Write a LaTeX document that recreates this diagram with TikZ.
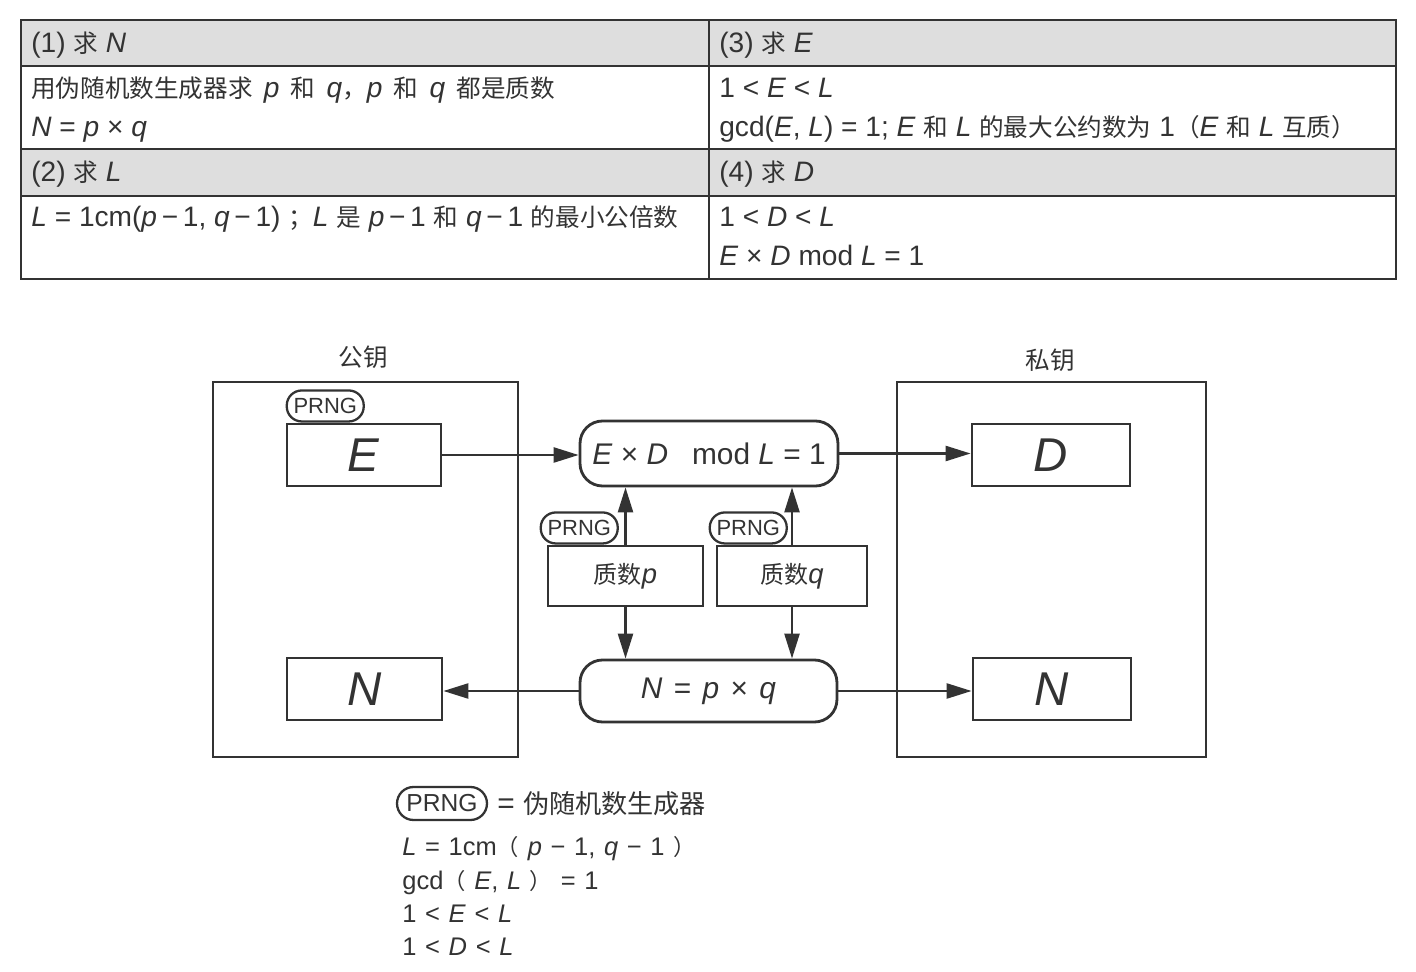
\documentclass[tikz,border=0pt]{standalone}
\usepackage{fontspec}
\setmainfont{Liberation Sans}
\newfontfamily\zhfont[Scale=0.875]{Noto Sans CJK SC}
\newcommand\zh[1]{{\zhfont #1}}
\usetikzlibrary{arrows.meta,positioning}
\definecolor{ink}{HTML}{333333}
\definecolor{hdrgray}{HTML}{DEDEDE}

\tikzset{
  keybox/.style={draw, line width=1.4pt, minimum height=7.5cm},
  valbox/.style={draw, line width=1.6pt, minimum height=1.24cm, font=\fontsize{27}{30}\selectfont},
  pill/.style={draw, line width=1.6pt, rounded corners=0.45cm, font=\fontsize{17}{20}\selectfont},
  primebox/.style={draw, line width=1.6pt, minimum height=1.2cm, font=\fontsize{15.6}{18}\selectfont},
  prng/.style={draw, line width=1.3pt, rounded corners=0.3cm, minimum width=1.54cm,
    minimum height=0.62cm, inner sep=0pt, font=\fontsize{12.5}{14}\selectfont},
  arr/.style={-{Triangle[length=0.5cm,width=0.3cm]}, line width=1.4pt},
  tbl/.style={line width=0.9pt},
  cell/.style={anchor=base west, inner sep=0pt, font=\fontsize{16}{18}\selectfont},
  keyline/.style={anchor=base west, inner sep=0pt,
    font={\fontsize{14.5}{17}\selectfont\spaceskip=0.34em\relax}}
}

\begin{document}
\begin{tikzpicture}[x=0.02cm, y=-0.02cm, color=ink]
  \useasboundingbox (0,0) rectangle (1416,972);

  % Table
  \fill[hdrgray] (21,20) rectangle (1396,66);
  \fill[hdrgray] (21,149) rectangle (1396,196);
  \draw[tbl] (21,20) rectangle (1396,279);
  \draw[tbl] (709,20) -- (709,279);
  \foreach \y in {66,149,196}
    \draw[tbl] (21,\y) -- (1396,\y);

  \node[cell] (h1) at (31,53) {(1) \zh{求} \textit{N}};
  \node[cell] (t1a) at (31,98) {\zh{用伪随机数生成器求}\hspace{0.4em}\textit{p}\hspace{0.4em}\zh{和}\hspace{0.4em}\textit{q}\zh{，}\textit{p}\hspace{0.4em}\zh{和}\hspace{0.4em}\textit{q}\hspace{0.4em}\zh{都是质数}};
  \node[cell] (t1b) at (31,137) {\textit{N} = \textit{p} × \textit{q}};
  \node[cell] (h2) at (31,182) {(2) \zh{求} \textit{L}};
  \node[cell] (t2a) at (31,227) {\textit{L} = 1cm(\textit{p}\,−\,1, \textit{q}\,−\,1) \zh{；}\textit{L} \zh{是} \textit{p}\,−\,1 \zh{和} \textit{q}\,−\,1 \zh{的最小公倍数}};

  \node[cell] (h3) at (719,53) {(3) \zh{求} \textit{E}};
  \node[cell] (t3a) at (719,98) {1 < \textit{E} < \textit{L}};
  \node[cell] (t3b) at (719,137) {gcd(\textit{E}, \textit{L}) = 1; \textit{E} \zh{和} \textit{L} \zh{的最大公约数为} 1\zh{（}\textit{E} \zh{和} \textit{L} \zh{互质）}};
  \node[cell] (h4) at (719,182) {(4) \zh{求} \textit{D}};
  \node[cell] (t4a) at (719,227) {1 < \textit{D} < \textit{L}};
  \node[cell] (t4b) at (719,266) {\textit{E} × \textit{D} mod \textit{L} = 1};

  % Key containers
  \node[keybox, minimum width=6.1cm] (pub) at (365.5,569.5) {};
  \node[keybox, minimum width=6.18cm] (priv) at (1051.5,569.5) {};
  \node[font=\fontsize{16}{18}\selectfont] (publbl) at (363,357) {\zh{公钥}};
  \node[font=\fontsize{16}{18}\selectfont] (privlbl) at (1050,360) {\zh{私钥}};

  % Values
  \node[valbox, minimum width=3.08cm] (valE) at (364,455) {\textit{E}};
  \node[valbox, minimum width=3.1cm] (valNl) at (364.5,689) {\textit{N}};
  \node[valbox, minimum width=3.16cm] (valD) at (1051,455) {\textit{D}};
  \node[valbox, minimum width=3.16cm] (valNr) at (1052,689) {\textit{N}};

  % Computations
  \node[pill, minimum width=5.16cm, minimum height=1.3cm] (modeq) at (709,453.5)
    {\textit{E} × \textit{D}\hspace{0.8em}mod \textit{L} = 1};
  \node[pill, minimum width=5.14cm, minimum height=1.24cm] (npq) at (708.5,691)
    {\spaceskip=0.38em\relax\textit{N} = \textit{p} × \textit{q}};
  \node[primebox, minimum width=3.1cm] (primeP) at (625.5,576) {\zh{质数}\textit{p}};
  \node[primebox, minimum width=3.0cm] (primeQ) at (792,576) {\zh{质数}\textit{q}};

  % PRNG tags
  \node[prng, anchor=south west] (prngE) at (valE.north west) {PRNG};
  \node[prng, anchor=south west] (prngP) at ([xshift=-0.14cm]primeP.north west) {PRNG};
  \node[prng, anchor=south west] (prngQ) at ([xshift=-0.14cm]primeQ.north west) {PRNG};

  % Flows
  \draw[arr] (valE.east) -- (valE.east -| modeq.west);
  \draw[arr] (modeq.east) -- (modeq.east -| valD.west);
  \draw[arr] (primeP.north) -- (primeP.north |- modeq.south);
  \draw[arr] (primeQ.north) -- (primeQ.north |- modeq.south);
  \draw[arr] (primeP.south) -- (primeP.south |- npq.north);
  \draw[arr] (primeQ.south) -- (primeQ.south |- npq.north);
  \draw[arr] (npq.west) -- (npq.west -| valNl.east);
  \draw[arr] (npq.east) -- (npq.east -| valNr.west);

  % Legend
  \node[prng, minimum width=1.8cm, minimum height=0.66cm, rounded corners=0.33cm,
    font=\fontsize{14}{16}\selectfont] (prngkey) at (442,803.5) {PRNG};
  \node[right=0.06cm of prngkey, font=\fontsize{17}{19}\selectfont] (prngdef) {= \zh{伪随机数生成器}};
  \node[keyline] (key1) at (402,855) {\textit{L} = 1cm\zh{（} \textit{p} − 1,\ \textit{q} − 1 \zh{）}};
  \node[keyline] (key2) at (402,889) {gcd\zh{（} \textit{E}, \textit{L} \zh{）} = 1};
  \node[keyline] (key3) at (402,922) {1 < \textit{E} < \textit{L}};
  \node[keyline] (key4) at (402,955) {1 < \textit{D} < \textit{L}};

\end{tikzpicture}
\end{document}
